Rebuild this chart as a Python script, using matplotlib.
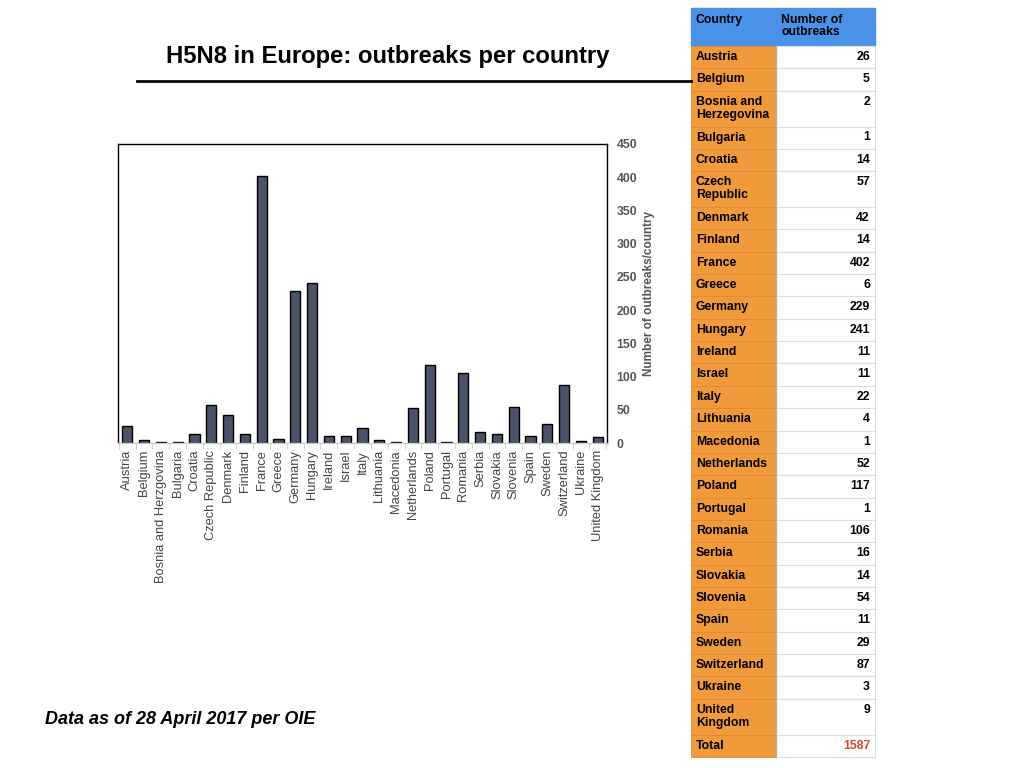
import matplotlib.pyplot as plt
import matplotlib.patches as mpatches
import numpy as np

plt.rcParams['font.family'] = ['Liberation Sans', 'DejaVu Sans']

# data
countries = ['Austria', 'Belgium', 'Bosnia and Herzgovina', 'Bulgaria', 'Croatia',
             'Czech Republic', 'Denmark', 'Finland', 'France', 'Greece', 'Germany',
             'Hungary', 'Ireland', 'Israel', 'Italy', 'Lithuania', 'Macedonia',
             'Netherlands', 'Poland', 'Portugal', 'Romania', 'Serbia', 'Slovakia',
             'Slovenia', 'Spain', 'Sweden', 'Switzerland', 'Ukraine', 'United Kingdom']
outbreaks = [26, 5, 2, 1, 14, 57, 42, 14, 402, 6, 229, 241, 11, 11, 22, 4, 1,
             52, 117, 1, 106, 16, 14, 54, 11, 29, 87, 3, 9]
table_names = ['Austria', 'Belgium', 'Bosnia and\nHerzegovina', 'Bulgaria', 'Croatia',
               'Czech\nRepublic', 'Denmark', 'Finland', 'France', 'Greece', 'Germany',
               'Hungary', 'Ireland', 'Israel', 'Italy', 'Lithuania', 'Macedonia',
               'Netherlands', 'Poland', 'Portugal', 'Romania', 'Serbia', 'Slovakia',
               'Slovenia', 'Spain', 'Sweden', 'Switzerland', 'Ukraine', 'United\nKingdom']
total = 1587
yticks = [0, 50, 100, 150, 200, 250, 300, 350, 400, 450]

W, H = 1024, 768
fig = plt.figure(figsize=(W / 100, H / 100), dpi=100)

# bar chart
ax = fig.add_axes([118 / W, 1 - 443 / H, 489 / W, 299 / H])
x = np.arange(len(countries))
ax.bar(x, outbreaks, width=0.6, color='#4a5367', edgecolor='black', linewidth=1)
ax.set_xlim(-0.55, len(countries) - 0.45)
ax.set_ylim(0, 450)
ax.yaxis.tick_right()
ax.yaxis.set_label_position('right')
ax.set_yticks(yticks)
ax.set_yticklabels([str(v) for v in yticks], fontsize=8.8, color='#555555', fontweight='bold')
ax.tick_params(axis='y', length=0, pad=7)
ax.set_ylabel('Number of outbreaks/country', fontsize=8.5, color='#555555',
              fontweight='bold', labelpad=4)
ax.set_xticks(x)
ax.set_xticklabels(countries, rotation=90, fontsize=9.3, color='#444444')
ax.tick_params(axis='x', length=0, pad=5)
ax.set_xticks(np.arange(len(countries) + 1) - 0.5, minor=True)
ax.tick_params(axis='x', which='minor', length=4, color='#cccccc')
for s in ax.spines.values():
    s.set_linewidth(1)
    s.set_color('black')
ax.spines['bottom'].set_color('#cccccc')

# overlay for title, line, footer and table
ov = fig.add_axes([0, 0, 1, 1])
ov.set_xlim(0, W)
ov.set_ylim(H, 0)
ov.axis('off')

ov.text(388, 56, 'H5N8 in Europe: outbreaks per country', fontsize=17.2,
        fontweight='bold', ha='center', va='center')
ov.plot([137, 691], [81, 81], color='black', lw=2)
ov.text(45, 720, 'Data as of 28 April 2017 per OIE', fontsize=13,
        fontweight='bold', fontstyle='italic', ha='left', va='center')

# table
x0, x1, x2 = 691, 776, 875
ov.add_patch(mpatches.Rectangle((x0, 8), x2 - x0, 38, color='#4a92e8', zorder=1))
ov.text(x0 + 5, 14, 'Country', fontsize=8.8, fontweight='bold', va='top', zorder=3)
ov.text(x1 + 5, 14, 'Number of\noutbreaks', fontsize=8.8, fontweight='bold',
        va='top', linespacing=1.05, zorder=3)

rows = list(zip(table_names, [str(v) for v in outbreaks])) + [('Total', str(total))]
hs, hd = 22.35, 35.8
y = 46
for name, val in rows:
    h = hd if '\n' in name else hs
    ov.add_patch(mpatches.Rectangle((x0, y), x1 - x0, h, facecolor='#f09a3c',
                                    edgecolor='#e08a30', lw=0.6, zorder=1))
    ov.add_patch(mpatches.Rectangle((x1, y), x2 - x1, h, facecolor='white',
                                    edgecolor='#dddddd', lw=0.8, zorder=1))
    ov.text(x0 + 5, y + 5, name, fontsize=8.8, fontweight='bold', va='top',
            linespacing=1.1, zorder=3)
    col = '#e0422c' if name == 'Total' else 'black'
    ov.text(x2 - 5, y + 5, val, fontsize=8.8, fontweight='bold', va='top',
            ha='right', color=col, zorder=3)
    y += h
ov.plot([x1, x1], [46, y], color='#b0b0b0', lw=1, zorder=2)

fig.savefig('out.png', dpi=100)
